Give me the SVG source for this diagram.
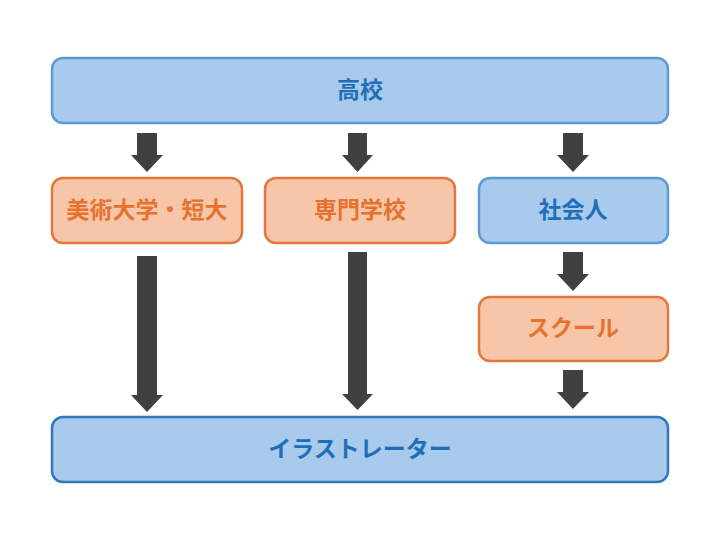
<svg xmlns="http://www.w3.org/2000/svg" width="720" height="540" viewBox="0 0 720 540">
<style>
.blue rect{fill:#a8caec;stroke:#5b9bd5;stroke-width:2.5}
.blue2 rect{fill:#a8caec;stroke:#2f78be;stroke-width:2.5}
.orange rect{fill:#f7c6a9;stroke:#e2783c;stroke-width:2.5}
text{font-family:"Noto Sans CJK JP","Noto Sans",sans-serif;font-weight:bold;font-size:23px;text-anchor:middle;dominant-baseline:central}
.blue text,.blue2 text{fill:#1f6fb8}
.orange text{fill:#e5722f}
.arr{fill:#404040}
</style>
<rect width="720" height="540" fill="#fff"/>
<g id="koukou" class="blue"><rect x="52" y="58" width="616" height="65" rx="11"/><text x="360" y="88">高校</text></g>
<g id="bijutsu" class="orange"><rect x="52" y="178" width="190" height="65" rx="11"/><text x="147" y="208">美術大学・短大</text></g>
<g id="senmon" class="orange"><rect x="265" y="178" width="190" height="65" rx="11"/><text x="360" y="208">専門学校</text></g>
<g id="shakaijin" class="blue"><rect x="479" y="178" width="189" height="65" rx="11"/><text x="573" y="208">社会人</text></g>
<g id="school" class="orange"><rect x="479" y="297" width="189" height="64" rx="11"/><text x="573" y="326">スクール</text></g>
<g id="illustrator" class="blue2"><rect x="52" y="417" width="616" height="65" rx="11"/><text x="360" y="447">イラストレーター</text></g>
<g id="connectors" class="arr">
<polygon points="137,133 157,133 157,155 163,155 147,172 131,155 137,155"/>
<polygon points="348,133 367,133 367,155 373,155 357.5,172 342,155 348,155"/>
<polygon points="563,133 583,133 583,155 589,155 573,172 557,155 563,155"/>
<polygon points="137,256 157,256 157,395 163,395 147,412 131,395 137,395"/>
<polygon points="348,252 367,252 367,394 373,394 357.5,410 342,394 348,394"/>
<polygon points="563,252 583,252 583,274 589,274 573,291 557,274 563,274"/>
<polygon points="563,370 583,370 583,392 589,392 573,409 557,392 563,392"/>
</g>
</svg>
